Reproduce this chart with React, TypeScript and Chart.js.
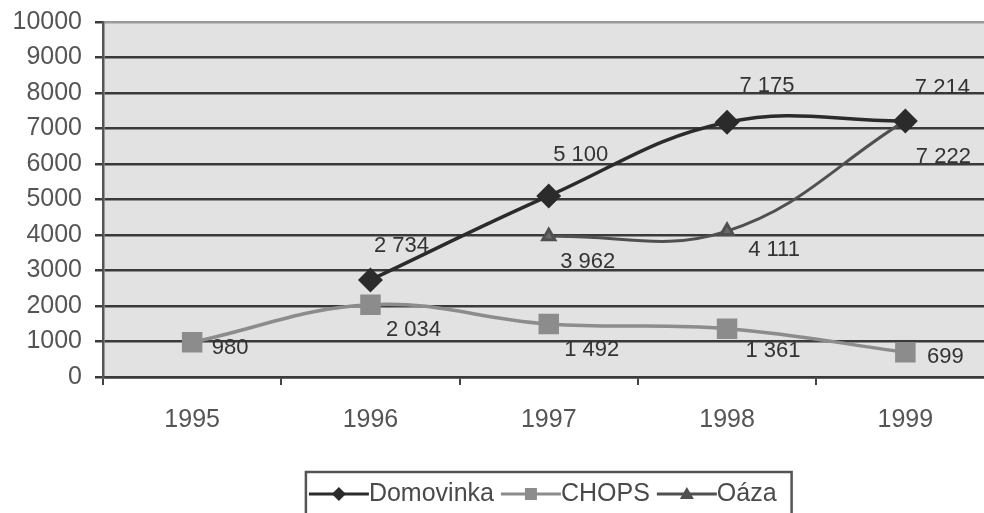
import React, { useEffect, useRef } from 'react';
import { Chart, registerables } from 'chart.js';

Chart.register(...registerables);

const years = ['1995', '1996', '1997', '1998', '1999'];
const domovinka = [null, 2734, 5100, 7175, 7214];
const chops = [980, 2034, 1492, 1361, 699];
const oaza = [null, null, 3962, 4111, 7222];
const seriesNames = ['Domovinka', 'CHOPS', 'Oáza'];
const yMin = 0;
const yMax = 10000;
const yStep = 1000;

// value-label offsets in pixels (dx, dy) relative to each point
const labelOffsets: (number[] | null)[][] = [
  [null, [31, -34], [32, -41], [40, -36], [37, -33]],
  [[38, 6], [43, 25], [43, 26], [46, 22], [40, 5]],
  [null, null, [39, 26], [47, 19], [38, 36]],
];

const seriesColors = ['#2b2b2b', '#8c8c8c', '#505050'];
const markerStyles = ['rectRot', 'rect', 'triangle'];
const FONT = '"Liberation Sans", Arial, sans-serif';

const fmt = (v: number) => String(v).replace(/\B(?=(\d{3})+(?!\d))/g, ' ');

const bgPlugin = {
  id: 'plotBg',
  beforeDraw(chart: any) {
    const { ctx, chartArea } = chart;
    ctx.save();
    ctx.fillStyle = '#e2e2e2';
    ctx.fillRect(chartArea.left, chartArea.top, chartArea.right - chartArea.left, chartArea.bottom - chartArea.top);
    ctx.restore();
  },
};

const labelPlugin = {
  id: 'valueLabels',
  afterDatasetsDraw(chart: any) {
    const { ctx } = chart;
    ctx.save();
    ctx.font = `22px ${FONT}`;
    ctx.fillStyle = '#333';
    ctx.textAlign = 'center';
    ctx.textBaseline = 'middle';
    chart.data.datasets.forEach((ds: any, di: number) => {
      const meta = chart.getDatasetMeta(di);
      meta.data.forEach((pt: any, i: number) => {
        const v = ds.data[i];
        const off = labelOffsets[di][i];
        if (v == null || !off) return;
        ctx.fillText(fmt(v), pt.x + off[0], pt.y + off[1]);
      });
    });
    ctx.restore();
  },
};

function drawMarker(ctx: CanvasRenderingContext2D, style: string, x: number, y: number, r: number) {
  ctx.beginPath();
  if (style === 'rectRot') {
    ctx.moveTo(x, y - r);
    ctx.lineTo(x + r, y);
    ctx.lineTo(x, y + r);
    ctx.lineTo(x - r, y);
  } else if (style === 'rect') {
    ctx.rect(x - r, y - r, 2 * r, 2 * r);
  } else {
    ctx.moveTo(x, y - r);
    ctx.lineTo(x + r, y + r * 0.7);
    ctx.lineTo(x - r, y + r * 0.7);
  }
  ctx.closePath();
  ctx.fill();
}

const legendPlugin = {
  id: 'boxLegend',
  afterDraw(chart: any) {
    const { ctx, chartArea } = chart;
    ctx.save();
    ctx.font = `25px ${FONT}`;
    const symW = 60;
    const gap = 7;
    const padL = 3;
    const padR = 15;
    const widths = seriesNames.map((n) => ctx.measureText(n).width);
    const total = widths.reduce((a, b) => a + b + symW, 0) + gap * (seriesNames.length - 1) + padL + padR;
    const cx = (chartArea.left + chartArea.right) / 2;
    const left = cx - total / 2;
    const top = 472;
    ctx.strokeStyle = '#555';
    ctx.lineWidth = 2.5;
    ctx.strokeRect(left, top, total, 80);
    const yc = 494;
    let x = left + padL;
    seriesNames.forEach((name, i) => {
      ctx.strokeStyle = seriesColors[i];
      ctx.fillStyle = seriesColors[i];
      ctx.lineWidth = 3;
      ctx.beginPath();
      ctx.moveTo(x, yc);
      ctx.lineTo(x + symW, yc);
      ctx.stroke();
      drawMarker(ctx, markerStyles[i], x + symW / 2, yc, i === 1 ? 6 : 7);
      x += symW;
      ctx.fillStyle = '#4a4a4a';
      ctx.textAlign = 'left';
      ctx.textBaseline = 'middle';
      ctx.fillText(name, x, yc);
      x += widths[i] + gap;
    });
    ctx.restore();
  },
};

export default function App() {
  const ref = useRef<HTMLCanvasElement | null>(null);
  useEffect(() => {
    if (!ref.current) return;
    const chart = new Chart(ref.current, {
      type: 'line',
      data: {
        labels: years,
        datasets: [
          {
            label: seriesNames[0],
            data: domovinka,
            borderColor: seriesColors[0],
            backgroundColor: seriesColors[0],
            borderWidth: 3.5,
            pointStyle: 'rectRot',
            pointRadius: 10,
            tension: 0.4,
          },
          {
            label: seriesNames[1],
            data: chops,
            borderColor: seriesColors[1],
            backgroundColor: seriesColors[1],
            borderWidth: 3.5,
            pointStyle: 'rect',
            pointRadius: 12,
            tension: 0.4,
          },
          {
            label: seriesNames[2],
            data: oaza,
            borderColor: seriesColors[2],
            backgroundColor: '#6a6a6a',
            borderWidth: 3,
            pointStyle: 'triangle',
            pointRadius: 7,
            tension: 0.4,
          },
        ],
      },
      options: {
        responsive: false,
        animation: false,
        layout: { padding: { top: 22, right: 7, bottom: 76, left: 0 } },
        plugins: { legend: { display: false }, tooltip: { enabled: false } },
        scales: {
          x: {
            offset: true,
            afterFit: (s: any) => {
              s.height = 60;
            },
            grid: { offset: true, drawOnChartArea: false, drawTicks: true, tickLength: 8, color: '#444', lineWidth: 2 },
            border: { color: '#3a3a3a', width: 2.5 },
            ticks: { font: { family: FONT, size: 25 }, color: '#555', padding: 20 },
          },
          y: {
            min: yMin,
            max: yMax,
            afterFit: (s: any) => {
              s.width = 103;
              s.paddingTop = 0;
              s.paddingBottom = 0;
            },
            grid: {
              color: (c: any) => (c.tick && c.tick.value === yMax ? '#9a9a9a' : '#3a3a3a'),
              lineWidth: 2.5,
              tickLength: 8,
              tickColor: '#3a3a3a',
            },
            border: { color: '#555', width: 2.5 },
            ticks: {
              stepSize: yStep,
              font: { family: FONT, size: 25 },
              color: '#555',
              padding: 13,
              callback: (v: any) => String(v),
            },
          },
        },
      },
      plugins: [bgPlugin, labelPlugin, legendPlugin],
    });
    return () => chart.destroy();
  }, []);
  return (
    <div style={{ position: 'fixed', left: 0, top: 0, width: 984, height: 513, overflow: 'hidden', background: '#fff' }}>
      <canvas ref={ref} width={1010} height={513} style={{ display: 'block', width: 1010, height: 513 }} />
    </div>
  );
}
